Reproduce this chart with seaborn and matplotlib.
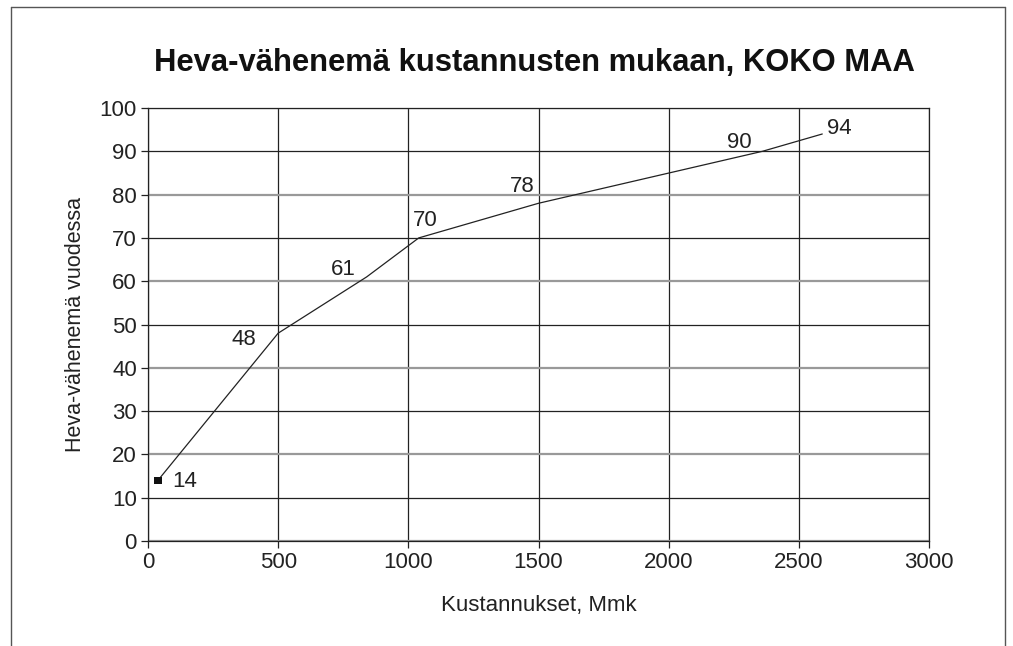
import matplotlib
matplotlib.use("Agg")
import matplotlib.pyplot as plt
from matplotlib.lines import Line2D
import seaborn as sns
import pandas as pd

# ── data ─────────────────────────────────────────────────────────────────────
costs = [38, 500, 840, 1040, 1500, 2360, 2590]          # Mmk
reduction = [14, 48, 61, 70, 78, 90, 94]                # Heva-vähenemä
x_ticks = [0, 500, 1000, 1500, 2000, 2500, 3000]
y_ticks = [0, 10, 20, 30, 40, 50, 60, 70, 80, 90, 100]

# label offsets (pixels) from each point
label_offsets = [(27, -1), (-34, -6), (-23, 7), (6, 17), (-16, 17), (-23, 9), (17, 5)]

df = pd.DataFrame({"cost": costs, "reduction": reduction})

sns.set_theme(style="white")
plt.rcParams["font.family"] = ["Liberation Sans", "DejaVu Sans"]

fig = plt.figure(figsize=(10.13, 6.46), dpi=100)
ax = fig.add_axes([0.1461, 0.1625, 0.7710, 0.6703])

sns.lineplot(data=df, x="cost", y="reduction", sort=False, estimator=None,
             color="#222222", linewidth=0.9, ax=ax)
# only the first point carries a marker
sns.scatterplot(data=df.iloc[:1], x="cost", y="reduction", marker="s",
                color="#111111", s=28, edgecolor="none", ax=ax, zorder=5)

for (xv, yv), (dx, dy) in zip(zip(costs, reduction), label_offsets):
    ax.annotate(str(yv), (xv, yv), xytext=(dx, dy), textcoords="offset pixels",
                ha="center", va="center", fontsize=16, color="#222222")

ax.set_xlim(0, 3000)
ax.set_ylim(0, 100)
ax.set_xticks(x_ticks)
ax.set_yticks(y_ticks)
ax.tick_params(axis="both", which="major", labelsize=16, length=5, width=0.9,
               direction="out", color="#222222", labelcolor="#222222",
               left=True, bottom=True, pad=3)

# grid: vertical black, horizontal alternating dark / grey
ax.xaxis.grid(True, color="#222222", linewidth=0.9)
ax.yaxis.grid(True, linewidth=1.2)
for i, gl in enumerate(ax.get_ygridlines()):
    if i % 2 == 1:
        gl.set_color("#222222")
        gl.set_linewidth(0.9)
    else:
        gl.set_color("#999999")
        gl.set_linewidth(1.6)
ax.set_axisbelow(True)

for sp in ax.spines.values():
    sp.set_visible(True)
    sp.set_color("#222222")
    sp.set_linewidth(0.9)

ax.set_xlabel("Kustannukset, Mmk", fontsize=16, color="#222222", labelpad=16)
ax.set_ylabel("Heva-vähenemä vuodessa", fontsize=15.5, color="#222222", labelpad=10)
fig.text(0.528, 0.903, "Heva-vähenemä kustannusten mukaan, KOKO MAA",
         ha="center", va="center", fontsize=22.3, fontweight="bold", color="#111111")

# outer frame (open at the bottom)
frame_kw = dict(color="#555555", linewidth=1.0, transform=fig.transFigure)
fig.add_artist(Line2D([0.011, 0.011], [0, 0.989], **frame_kw))
fig.add_artist(Line2D([0.011, 0.992], [0.989, 0.989], **frame_kw))
fig.add_artist(Line2D([0.992, 0.992], [0, 0.989], **frame_kw))

fig.savefig("out.png", dpi=100)
